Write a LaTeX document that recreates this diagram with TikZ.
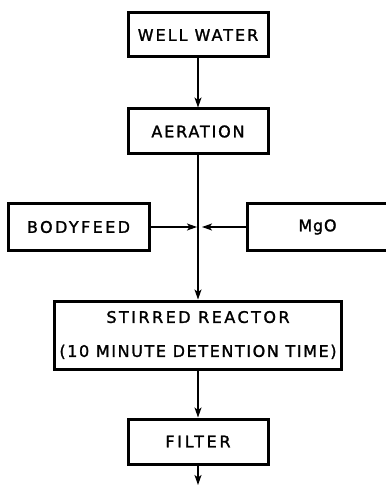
\documentclass[tikz,border=0pt]{standalone}
\usepackage{fontspec}
\setmainfont{DejaVu Sans}[FakeBold=1.5]
\usetikzlibrary{arrows.meta}
\newcommand{\lsp}[2]{{\addfontfeature{LetterSpace=#1}#2}}
\begin{document}
\begin{tikzpicture}[x=1pt,y=-1pt,
  box/.style={draw,line width=3pt,minimum width=140pt,minimum height=45pt,inner sep=0pt,
    font=\fontsize{16pt}{34pt}\selectfont,align=center},
  flow/.style={line width=1.3pt,-{Stealth[length=10pt,width=7pt,inset=2.5pt]}}]
\useasboundingbox (0,0) rectangle (385,486);
\node[box,minimum height=44pt] (well) at (198,35) {\lsp{12.5}{WELL WATER}};
\node[box] (aer) at (198,131.5) {\lsp{11.5}{AERATION}};
\node[box,minimum width=141pt,minimum height=47pt] (body) at (78.5,227) {\lsp{15}{BODYFEED}};
\node[box,minimum width=141pt,minimum height=47pt] (mgo) at (317.5,227) {\lsp{5}{MgO}};
\node[box,minimum width=287pt,minimum height=68pt] (reactor) at (198,335)
  {\lsp{15.5}{STIRRED REACTOR}\\\lsp{10}{(10 MINUTE DETENTION TIME)}};
\node[box] (filter) at (198,441.5) {\lsp{17}{FILTER}};
\coordinate (jl) at (197,227);
\coordinate (jr) at (202,227);
\coordinate (out) at (198,485);
\draw[flow] (well) -- (aer);
\draw[flow] (aer) -- (reactor);
\draw[flow] (body) -- (jl);
\draw[flow] (mgo) -- (jr);
\draw[flow] (reactor) -- (filter);
\draw[flow] (filter) -- (out);
\end{tikzpicture}
\end{document}
